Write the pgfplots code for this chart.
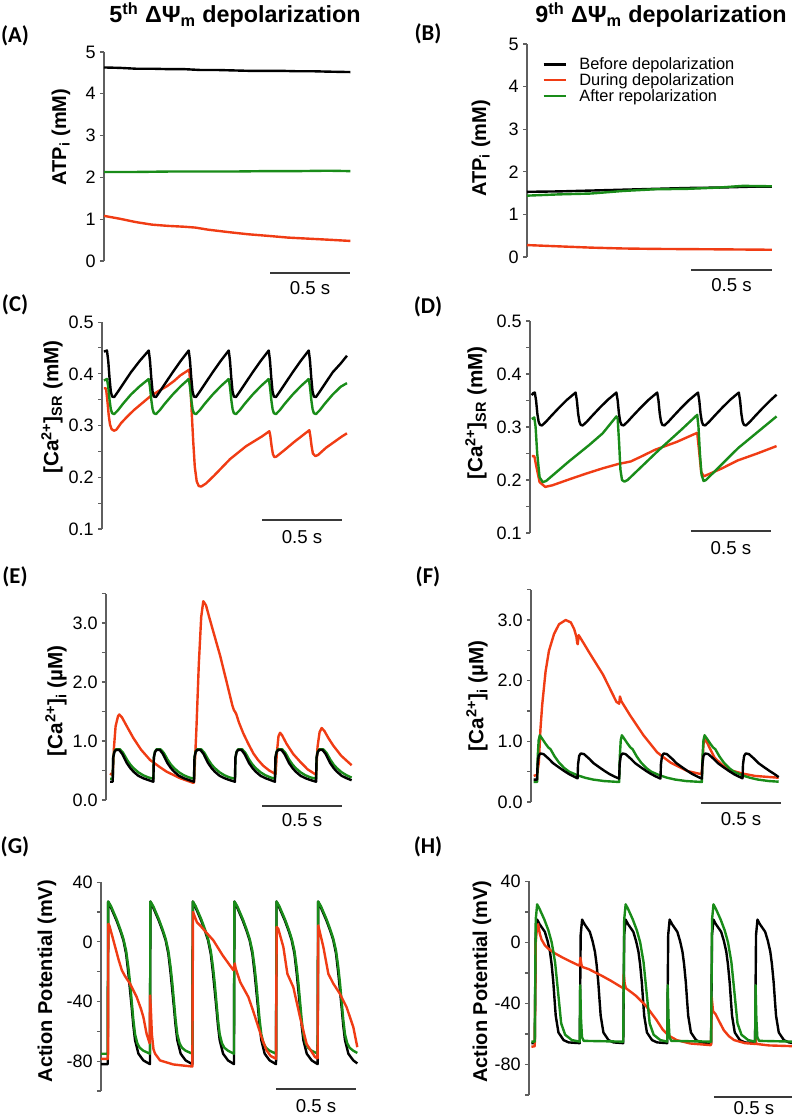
\documentclass[border=0pt]{standalone}
\usepackage{fontspec}
\setmainfont{Liberation Sans}
\newfontfamily\carlito{Carlito}
\usepackage{graphicx}
\usepackage{pgfplots}
\pgfplotsset{compat=1.18}
\definecolor{cred}{RGB}{240,60,20}
\definecolor{cgreen}{RGB}{25,140,25}
\definecolor{axgray}{RGB}{95,95,95}
\tikzset{sbar/.style={axgray!60!black, line width=1pt}}
\pgfplotsset{
  panel/.style={
    axis x line=none, axis y line*=left, x=120pt, xmin=0,
    clip=false, tick align=outside, major tick length=3pt, minor tick length=3pt,
    y axis line style={axgray, line width=0.8pt},
    tick style={axgray, line width=0.8pt},
    tick label style={font=\fontsize{13.5}{14}\selectfont, inner sep=3pt, text=black},
    anchor=south west,
    ylabel style={font=\bfseries\fontsize{15.5}{16}\selectfont},
  },
  bk/.style={black, line width=1.8pt, line join=round, no markers},
  rd/.style={cred, line width=1.8pt, line join=round, no markers},
  gn/.style={cgreen, line width=1.8pt, line join=round, no markers},
}
\newcommand{\sblab}{\fontsize{14}{14}\selectfont}
\begin{document}
\begin{tikzpicture}
\path[use as bounding box] (0pt,0pt) rectangle (594pt,-837.75pt);
% titles
\node[font=\bfseries\fontsize{17.5}{18}\selectfont] at (176.25pt,-11.25pt) {5\textsuperscript{th} ΔΨ\textsubscript{m} depolarization};
\node[font=\bfseries\fontsize{17.5}{18}\selectfont] at (495.75pt,-11.25pt) {9\textsuperscript{th} ΔΨ\textsubscript{m} depolarization};
% panel labels
\node[font=\carlito\bfseries\fontsize{17}{17}\selectfont] at (11.25pt,-27pt) {(A)};
\node[font=\carlito\bfseries\fontsize{17}{17}\selectfont] at (321pt,-25.5pt) {(B)};
\node[font=\carlito\bfseries\fontsize{17}{17}\selectfont] at (11.25pt,-228.75pt) {(C)};
\node[font=\carlito\bfseries\fontsize{17}{17}\selectfont] at (321pt,-230.25pt) {(D)};
\node[font=\carlito\bfseries\fontsize{17}{17}\selectfont] at (11.25pt,-432.75pt) {(E)};
\node[font=\carlito\bfseries\fontsize{17}{17}\selectfont] at (321pt,-432.75pt) {(F)};
\node[font=\carlito\bfseries\fontsize{17}{17}\selectfont] at (11.25pt,-635.25pt) {(G)};
\node[font=\carlito\bfseries\fontsize{17}{17}\selectfont] at (321pt,-635.25pt) {(H)};

% ---------------- A
\begin{axis}[panel, at={(78pt,-195.75pt)}, y=31.35pt, ymin=0, ymax=5, xmax=1.54,
  ytick={0,1,2,3,4,5}, yticklabels={0,1,2,3,4,5},
  ylabel={ATP\textsubscript{i} (mM)},
  ylabel style={at={([xshift=-32.25pt]rel axis cs:0,0.593)}, anchor=center, font=\bfseries\fontsize{15}{16}\selectfont}]
\addplot[bk] coordinates {(0,4.63)(0.1,4.62)(0.2,4.60)(0.3,4.60)(0.4,4.59)(0.5,4.59)(0.6,4.57)(0.7,4.57)(0.8,4.56)(0.9,4.55)(1.0,4.55)(1.1,4.55)(1.2,4.54)(1.3,4.54)(1.4,4.53)(1.54,4.52)};
\addplot[gn] coordinates {(0,2.13)(0.2,2.13)(0.4,2.14)(0.6,2.14)(0.8,2.14)(1.0,2.15)(1.2,2.15)(1.4,2.16)(1.54,2.15)};
\addplot[rd] coordinates {(0,1.08)(0.1,1.01)(0.2,0.93)(0.3,0.87)(0.4,0.84)(0.5,0.82)(0.57,0.80)(0.65,0.75)(0.78,0.69)(0.9,0.64)(1.03,0.60)(1.15,0.56)(1.25,0.54)(1.4,0.51)(1.54,0.48)};
\draw[sbar] ([yshift=-9pt]axis cs:1.0375,0) -- ([yshift=-9pt]axis cs:1.5375,0) node[midway, yshift=-11.25pt, inner sep=0pt, text=black, font=\sblab] {0.5 s};
\end{axis}

% ---------------- B
\begin{axis}[panel, at={(395.25pt,-192.75pt)}, y=31.95pt, ymin=0, ymax=5, xmax=1.53,
  ytick={0,1,2,3,4,5}, yticklabels={0,1,2,3,4,5},
  ylabel={ATP\textsubscript{i} (mM)},
  ylabel style={at={([xshift=-34.5pt]rel axis cs:0,0.51)}, anchor=center, font=\bfseries\fontsize{15}{16}\selectfont},
  legend style={at={(axis cs:0.094,4.69)}, anchor=north west, draw=none, fill=none, inner sep=0pt, row sep=1.5pt, column sep=0pt,
    font=\fontsize{12.3}{13}\selectfont, nodes={inner sep=0pt}},
  legend cell align=left,
  legend image code/.code={\draw[#1] (0pt,0pt) -- (17pt,0pt); \path (26pt,0pt);}]
\addplot[bk] coordinates {(0,1.53)(0.2,1.54)(0.4,1.56)(0.6,1.58)(0.8,1.6)(1.0,1.62)(1.2,1.63)(1.4,1.65)(1.53,1.65)};
\addlegendentry{Before depolarization}
\addplot[rd] coordinates {(0,0.28)(0.2,0.25)(0.4,0.22)(0.6,0.2)(0.8,0.19)(1.0,0.185)(1.2,0.18)(1.53,0.17)};
\addlegendentry{During depolarization}
\addplot[gn] coordinates {(0,1.44)(0.2,1.47)(0.4,1.49)(0.6,1.55)(0.8,1.59)(1.0,1.6)(1.2,1.63)(1.35,1.67)(1.53,1.66)};
\addlegendentry{After repolarization}
\draw[sbar] ([yshift=-9.75pt]axis cs:1.025,0) -- ([yshift=-9.75pt]axis cs:1.531,0) node[midway, yshift=-11.6pt, inner sep=0pt, text=black, font=\sblab] {0.5 s};
\end{axis}

% ---------------- C
\begin{axis}[panel, at={(76.5pt,-396.75pt)}, y=388pt, ymin=0.1, ymax=0.5, xmax=1.531,
  ytick={0.1,0.2,0.3,0.4,0.5}, yticklabels={0.1,0.2,0.3,0.4,0.5},
  minor ytick={0.15,0.25,0.35,0.45},
  ylabel={[Ca\textsuperscript{2+}]\textsubscript{SR} (mM)},
  ylabel style={at={([xshift=-37.5pt]rel axis cs:0,0.59)}, anchor=center}]
\addplot[rd] coordinates {(0.012,0.372)(0.025,0.372)(0.033,0.35)(0.042,0.32)(0.05,0.302)(0.06,0.293)(0.075,0.29)(0.09,0.292)(0.12,0.305)(0.16,0.318)(0.2,0.33)(0.25,0.343)(0.3,0.356)(0.35,0.366)(0.406,0.376)(0.45,0.386)(0.49,0.397)(0.52,0.403)(0.545,0.408)(0.552,0.38)(0.56,0.33)(0.57,0.27)(0.58,0.22)(0.592,0.192)(0.605,0.183)(0.62,0.182)(0.65,0.188)(0.7,0.203)(0.8,0.235)(0.9,0.26)(1.0,0.279)(1.046,0.289)(1.052,0.28)(1.06,0.26)(1.068,0.245)(1.077,0.239)(1.09,0.24)(1.15,0.255)(1.2,0.268)(1.25,0.28)(1.296,0.291)(1.302,0.28)(1.31,0.26)(1.318,0.246)(1.333,0.241)(1.35,0.243)(1.4,0.257)(1.45,0.268)(1.5,0.279)(1.531,0.285)};
\addplot[gn] coordinates {(0.012,0.387)(0.031,0.39)
(0.039,0.375)(0.047,0.35)(0.055,0.332)(0.063,0.324)(0.076,0.322)(0.101,0.33)(0.131,0.342)(0.181,0.36)(0.236,0.376)(0.292,0.39)
(0.300,0.375)(0.308,0.35)(0.316,0.332)(0.324,0.324)(0.337,0.322)(0.362,0.33)(0.392,0.342)(0.442,0.36)(0.492,0.376)(0.542,0.39)
(0.550,0.375)(0.558,0.35)(0.566,0.332)(0.574,0.324)(0.587,0.322)(0.612,0.33)(0.642,0.342)(0.692,0.36)(0.742,0.376)(0.792,0.39)
(0.800,0.375)(0.808,0.35)(0.816,0.332)(0.824,0.324)(0.837,0.322)(0.862,0.33)(0.892,0.342)(0.942,0.36)(0.992,0.376)(1.042,0.39)
(1.050,0.375)(1.058,0.35)(1.066,0.332)(1.074,0.324)(1.087,0.322)(1.112,0.33)(1.142,0.342)(1.192,0.36)(1.242,0.376)(1.292,0.39)
(1.300,0.375)(1.308,0.35)(1.316,0.332)(1.324,0.324)(1.337,0.322)(1.362,0.33)(1.392,0.342)(1.442,0.36)(1.492,0.375)(1.531,0.382)};
\addplot[bk] coordinates {(0.012,0.443)(0.031,0.445)
(0.039,0.425)(0.047,0.392)(0.055,0.366)(0.063,0.356)(0.076,0.355)(0.101,0.366)(0.131,0.38)(0.181,0.403)(0.236,0.425)(0.292,0.445)
(0.300,0.425)(0.308,0.392)(0.316,0.366)(0.324,0.356)(0.337,0.355)(0.362,0.366)(0.392,0.38)(0.442,0.403)(0.492,0.425)(0.542,0.445)
(0.550,0.425)(0.558,0.392)(0.566,0.366)(0.574,0.356)(0.587,0.355)(0.612,0.366)(0.642,0.38)(0.692,0.403)(0.742,0.425)(0.792,0.445)
(0.800,0.425)(0.808,0.392)(0.816,0.366)(0.824,0.356)(0.837,0.355)(0.862,0.366)(0.892,0.38)(0.942,0.403)(0.992,0.425)(1.042,0.445)
(1.050,0.425)(1.058,0.392)(1.066,0.366)(1.074,0.356)(1.087,0.355)(1.112,0.366)(1.142,0.38)(1.192,0.403)(1.242,0.425)(1.292,0.445)
(1.300,0.425)(1.308,0.392)(1.316,0.366)(1.324,0.356)(1.337,0.355)(1.362,0.366)(1.392,0.38)(1.442,0.403)(1.492,0.42)(1.531,0.435)};
\draw[sbar] ([yshift=6.75pt]axis cs:1.0,0.1) -- ([yshift=6.75pt]axis cs:1.5,0.1) node[midway, yshift=-12.75pt, inner sep=0pt, text=black, font=\sblab] {0.5 s};
\end{axis}

% ---------------- D
\begin{axis}[panel, at={(397.5pt,-399.75pt)}, y=397.5pt, ymin=0.1, ymax=0.5, xmax=1.541,
  ytick={0.1,0.2,0.3,0.4,0.5}, yticklabels={0.1,0.2,0.3,0.4,0.5},
  minor ytick={0.15,0.25,0.35,0.45},
  ylabel={[Ca\textsuperscript{2+}]\textsubscript{SR} (mM)},
  ylabel style={at={([xshift=-40.5pt]rel axis cs:0,0.566)}, anchor=center}]
\addplot[rd] coordinates {(0.011,0.245)(0.027,0.245)(0.04,0.225)(0.06,0.196)(0.095,0.187)(0.14,0.19)(0.243,0.201)(0.35,0.212)(0.454,0.222)(0.549,0.23)(0.63,0.235)(0.7,0.245)(0.781,0.257)(0.918,0.272)(1.045,0.289)(1.055,0.26)(1.07,0.215)(1.087,0.207)(1.2,0.222)(1.299,0.237)(1.42,0.25)(1.541,0.264)};
\addplot[gn] coordinates {(0.011,0.315)(0.027,0.318)(0.035,0.30)(0.045,0.25)(0.06,0.205)(0.08,0.196)(0.1,0.198)(0.243,0.235)(0.37,0.266)(0.454,0.288)(0.54,0.32)(0.548,0.315)(0.557,0.27)(0.565,0.22)(0.575,0.2)(0.59,0.197)(0.61,0.2)(0.8,0.255)(0.95,0.296)(1.045,0.323)(1.053,0.3)(1.062,0.25)(1.072,0.21)(1.085,0.198)(1.1,0.2)(1.3,0.26)(1.541,0.32)};
\addplot[bk] coordinates {(0.011,0.36)(0.02,0.364)(0.03,0.365)
(0.038,0.35)(0.046,0.325)(0.054,0.31)(0.062,0.304)(0.075,0.303)(0.1,0.31)(0.13,0.32)(0.18,0.336)(0.23,0.351)(0.285,0.365)
(0.293,0.35)(0.301,0.325)(0.309,0.31)(0.317,0.304)(0.33,0.303)(0.355,0.31)(0.385,0.32)(0.435,0.336)(0.485,0.351)(0.54,0.365)
(0.548,0.35)(0.556,0.325)(0.564,0.31)(0.572,0.304)(0.585,0.303)(0.61,0.31)(0.64,0.32)(0.69,0.336)(0.74,0.351)(0.795,0.365)
(0.803,0.35)(0.811,0.325)(0.819,0.31)(0.827,0.304)(0.84,0.303)(0.865,0.31)(0.895,0.32)(0.945,0.336)(0.995,0.351)(1.05,0.365)
(1.058,0.35)(1.066,0.325)(1.074,0.31)(1.082,0.304)(1.095,0.303)(1.12,0.31)(1.15,0.32)(1.2,0.336)(1.25,0.351)(1.305,0.365)
(1.313,0.35)(1.321,0.325)(1.329,0.31)(1.337,0.304)(1.35,0.303)(1.375,0.31)(1.405,0.32)(1.455,0.336)(1.505,0.351)(1.541,0.361)};
\draw[sbar] ([yshift=1.5pt]axis cs:1.006,0.1) -- ([yshift=1.5pt]axis cs:1.506,0.1) node[midway, yshift=-12.75pt, inner sep=0pt, text=black, font=\sblab] {0.5 s};
\end{axis}

% ---------------- E
\begin{axis}[panel, at={(79.5pt,-600pt)}, y=44.25pt, ymin=0, ymax=3.5, xmax=1.535,
  ytick={0,1,2,3}, yticklabels={0.0,1.0,2.0,3.0},
  minor ytick={0.5,1.5,2.5,3.5},
  ylabel={[Ca\textsuperscript{2+}]\textsubscript{i} (µM)},
  ylabel style={at={([xshift=-37.5pt]rel axis cs:0,0.48)}, anchor=center}]
\addplot[rd] coordinates {(0.025,0.45)(0.042,0.42)(0.05,0.9)(0.06,1.25)(0.075,1.42)(0.083,1.45)(0.1,1.4)(0.13,1.25)(0.171,1.05)(0.22,0.85)(0.275,0.68)(0.33,0.57)(0.379,0.48)(0.463,0.37)(0.546,0.29)(0.55,0.3)(0.565,1.2)(0.58,2.3)(0.595,3.1)(0.608,3.37)(0.625,3.3)(0.645,3.1)(0.671,2.85)(0.713,2.45)(0.754,2.0)(0.79,1.6)(0.8,1.52)(0.806,1.5)(0.815,1.45)(0.83,1.32)(0.858,1.13)(0.89,0.95)(0.921,0.79)(0.95,0.68)(0.983,0.58)(1.02,0.5)(1.06,0.44)(1.068,0.8)(1.078,1.08)(1.088,1.14)(1.1,1.1)(1.129,0.95)(1.17,0.78)(1.213,0.65)(1.26,0.52)(1.306,0.44)(1.313,0.43)(1.322,0.9)(1.335,1.15)(1.348,1.22)(1.365,1.17)(1.39,1.05)(1.421,0.92)(1.47,0.75)(1.535,0.59)};
\addplot[gn] coordinates {(0.025,0.36)(0.042,0.36)(0.045,0.72)(0.052,0.82)(0.062,0.86)(0.087,0.86)(0.107,0.8)(0.132,0.68)(0.152,0.6)(0.172,0.54)(0.202,0.47)(0.232,0.42)(0.262,0.385)(0.296,0.36)
(0.299,0.72)(0.306,0.82)(0.316,0.86)(0.341,0.86)(0.361,0.8)(0.386,0.68)(0.406,0.6)(0.426,0.54)(0.456,0.47)(0.486,0.42)(0.516,0.385)(0.55,0.36)
(0.553,0.72)(0.56,0.82)(0.57,0.86)(0.595,0.86)(0.615,0.8)(0.64,0.68)(0.66,0.6)(0.68,0.54)(0.71,0.47)(0.74,0.42)(0.77,0.385)(0.806,0.36)
(0.809,0.72)(0.816,0.82)(0.826,0.86)(0.851,0.86)(0.871,0.8)(0.896,0.68)(0.916,0.6)(0.936,0.54)(0.966,0.47)(0.996,0.42)(1.026,0.385)(1.056,0.36)
(1.059,0.72)(1.066,0.82)(1.076,0.86)(1.101,0.86)(1.121,0.8)(1.146,0.68)(1.166,0.6)(1.186,0.54)(1.216,0.47)(1.246,0.42)(1.276,0.385)(1.313,0.36)
(1.316,0.72)(1.323,0.82)(1.333,0.86)(1.358,0.86)(1.378,0.8)(1.403,0.68)(1.423,0.6)(1.443,0.54)(1.473,0.47)(1.503,0.42)(1.535,0.38)};
\addplot[bk] coordinates {(0.025,0.31)(0.042,0.31)(0.045,0.72)(0.052,0.81)(0.062,0.85)(0.082,0.85)(0.102,0.78)(0.129,0.63)(0.152,0.54)(0.172,0.48)(0.202,0.41)(0.232,0.37)(0.262,0.34)(0.296,0.31)
(0.299,0.72)(0.306,0.81)(0.316,0.85)(0.336,0.85)(0.356,0.78)(0.383,0.63)(0.406,0.54)(0.426,0.48)(0.456,0.41)(0.486,0.37)(0.516,0.34)(0.55,0.31)
(0.553,0.72)(0.56,0.81)(0.57,0.85)(0.59,0.85)(0.61,0.78)(0.637,0.63)(0.66,0.54)(0.68,0.48)(0.71,0.41)(0.74,0.37)(0.77,0.34)(0.806,0.31)
(0.809,0.72)(0.816,0.81)(0.826,0.85)(0.846,0.85)(0.866,0.78)(0.893,0.63)(0.916,0.54)(0.936,0.48)(0.966,0.41)(0.996,0.37)(1.026,0.34)(1.056,0.31)
(1.059,0.72)(1.066,0.81)(1.076,0.85)(1.096,0.85)(1.116,0.78)(1.143,0.63)(1.166,0.54)(1.186,0.48)(1.216,0.41)(1.246,0.37)(1.276,0.34)(1.313,0.31)
(1.316,0.72)(1.323,0.81)(1.333,0.85)(1.353,0.85)(1.373,0.78)(1.4,0.63)(1.423,0.54)(1.443,0.48)(1.473,0.41)(1.503,0.37)(1.535,0.335)};
\draw[sbar] ([yshift=-4.5pt]axis cs:0.975,0) -- ([yshift=-4.5pt]axis cs:1.475,0) node[midway, yshift=-10.5pt, inner sep=0pt, text=black, font=\sblab] {0.5 s};
\end{axis}

% ---------------- F
\begin{axis}[panel, at={(398.25pt,-601.5pt)}, y=45.5pt, ymin=0, ymax=3.5, xmax=1.548,
  ytick={0,1,2,3}, yticklabels={0.0,1.0,2.0,3.0},
  minor ytick={0.5,1.5,2.5,3.5},
  ylabel={[Ca\textsuperscript{2+}]\textsubscript{i} (µM)},
  ylabel style={at={([xshift=-40.5pt]rel axis cs:0,0.5)}, anchor=center}]
\addplot[rd] coordinates {(0.017,0.43)(0.038,0.45)(0.049,0.65)(0.059,1.2)(0.07,1.6)(0.091,2.15)(0.112,2.49)(0.144,2.77)(0.175,2.93)(0.217,3.0)(0.249,2.96)(0.27,2.85)(0.284,2.72)(0.289,2.62)(0.292,2.6)(0.298,2.75)(0.31,2.7)(0.365,2.46)(0.45,2.1)(0.534,1.65)(0.551,1.62)(0.556,1.74)(0.565,1.66)(0.619,1.43)(0.703,1.1)(0.788,0.82)(0.812,0.77)(0.872,0.65)(0.978,0.51)(1.062,0.46)(1.068,0.5)(1.078,0.95)(1.088,1.05)(1.1,0.98)(1.147,0.73)(1.2,0.6)(1.252,0.52)(1.32,0.47)(1.4,0.43)(1.548,0.4)};
\addplot[gn] coordinates {(0.017,0.33)(0.038,0.33)(0.042,0.75)(0.048,1.02)(0.055,1.1)(0.068,1.05)(0.091,0.96)(0.108,0.9)(0.122,0.87)(0.148,0.75)(0.175,0.65)(0.208,0.56)(0.238,0.5)(0.291,0.44)(0.338,0.4)(0.388,0.37)(0.458,0.345)(0.551,0.33)
(0.555,0.75)(0.561,1.02)(0.568,1.1)(0.581,1.05)(0.604,0.96)(0.621,0.9)(0.635,0.87)(0.661,0.75)(0.688,0.65)(0.721,0.56)(0.751,0.5)(0.804,0.44)(0.851,0.4)(0.901,0.37)(0.971,0.345)(1.068,0.33)
(1.072,0.75)(1.078,1.02)(1.085,1.1)(1.098,1.05)(1.121,0.96)(1.138,0.9)(1.152,0.87)(1.178,0.75)(1.205,0.65)(1.238,0.56)(1.268,0.5)(1.321,0.44)(1.368,0.4)(1.418,0.37)(1.488,0.345)(1.548,0.335)};
\addplot[bk] coordinates {(0.017,0.37)(0.038,0.37)(0.041,0.62)(0.048,0.76)(0.058,0.8)(0.078,0.79)(0.112,0.71)(0.138,0.64)(0.175,0.57)(0.208,0.51)(0.238,0.46)(0.268,0.42)(0.291,0.39)
(0.294,0.62)(0.301,0.76)(0.311,0.8)(0.331,0.79)(0.365,0.71)(0.391,0.64)(0.428,0.57)(0.461,0.51)(0.491,0.46)(0.521,0.42)(0.551,0.385)
(0.554,0.62)(0.561,0.76)(0.571,0.8)(0.591,0.79)(0.625,0.71)(0.651,0.64)(0.688,0.57)(0.721,0.51)(0.751,0.46)(0.781,0.42)(0.809,0.385)
(0.812,0.62)(0.819,0.76)(0.829,0.8)(0.849,0.79)(0.883,0.71)(0.909,0.64)(0.946,0.57)(0.979,0.51)(1.009,0.46)(1.039,0.42)(1.068,0.385)
(1.071,0.62)(1.078,0.76)(1.088,0.8)(1.108,0.79)(1.142,0.71)(1.168,0.64)(1.205,0.57)(1.238,0.51)(1.268,0.46)(1.298,0.42)(1.322,0.39)
(1.325,0.62)(1.332,0.76)(1.342,0.8)(1.362,0.79)(1.396,0.71)(1.422,0.64)(1.459,0.57)(1.492,0.51)(1.522,0.46)(1.548,0.41)};
\draw[sbar] ([yshift=-0.75pt]axis cs:1.0625,0) -- ([yshift=-0.75pt]axis cs:1.5625,0) node[midway, yshift=-12pt, inner sep=0pt, text=black, font=\sblab] {0.5 s};
\end{axis}

% ---------------- G
\begin{axis}[panel, at={(75.75pt,-818.25pt)}, y=1.119pt, ymin=-100, ymax=40, xmax=1.602,
  ytick={-80,-40,0,40}, yticklabels={-80,-40,0,40},
  minor ytick={-100,-60,-20,20},
  ylabel={Action Potential (mV)},
  ylabel style={at={([xshift=-40.5pt]rel axis cs:0,0.526)}, anchor=center, font=\bfseries\fontsize{15}{16}\selectfont}]
\addplot[bk] coordinates {(0,-82)(0.042,-82)(0.045,27)(0.062,23)(0.082,18)(0.098,14)(0.122,7)(0.14,1)(0.157,-8)(0.171,-21)(0.182,-33)(0.192,-44)(0.202,-56)(0.213,-66)(0.234,-75)(0.265,-79.5)(0.306,-82)
(0.309,27)(0.326,23)(0.346,18)(0.362,14)(0.386,7)(0.404,1)(0.421,-8)(0.435,-21)(0.446,-33)(0.456,-44)(0.466,-56)(0.477,-66)(0.498,-75)(0.529,-79.5)(0.571,-82)
(0.574,27)(0.591,23)(0.611,18)(0.627,14)(0.651,7)(0.669,1)(0.686,-8)(0.7,-21)(0.711,-33)(0.721,-44)(0.731,-56)(0.742,-66)(0.763,-75)(0.794,-79.5)(0.831,-82)
(0.834,27)(0.851,23)(0.871,18)(0.887,14)(0.911,7)(0.929,1)(0.946,-8)(0.96,-21)(0.971,-33)(0.981,-44)(0.991,-56)(1.002,-66)(1.023,-75)(1.054,-79.5)(1.094,-82)
(1.097,27)(1.114,23)(1.134,18)(1.15,14)(1.174,7)(1.192,1)(1.209,-8)(1.223,-21)(1.234,-33)(1.244,-44)(1.254,-56)(1.265,-66)(1.286,-75)(1.317,-79.5)(1.354,-82)
(1.357,27)(1.374,23)(1.394,18)(1.41,14)(1.434,7)(1.452,1)(1.469,-8)(1.483,-21)(1.494,-33)(1.504,-44)(1.514,-56)(1.525,-66)(1.546,-75)(1.577,-79.5)(1.602,-81.5)};
\addplot[gn] coordinates {(0,-75)(0.042,-75)(0.045,27)(0.062,24)(0.082,19)(0.098,15)(0.122,8)(0.14,2)(0.157,-6)(0.171,-17)(0.182,-28)(0.192,-40)(0.202,-52)(0.213,-62)(0.227,-68)(0.242,-71)(0.265,-73)(0.306,-75)
(0.309,27)(0.326,24)(0.346,19)(0.362,15)(0.386,8)(0.404,2)(0.421,-6)(0.435,-17)(0.446,-28)(0.456,-40)(0.466,-52)(0.477,-62)(0.491,-68)(0.506,-71)(0.529,-73)(0.571,-75)
(0.574,27)(0.591,24)(0.611,19)(0.627,15)(0.651,8)(0.669,2)(0.686,-6)(0.7,-17)(0.711,-28)(0.721,-40)(0.731,-52)(0.742,-62)(0.756,-68)(0.771,-71)(0.794,-73)(0.831,-75)
(0.834,27)(0.851,24)(0.871,19)(0.887,15)(0.911,8)(0.929,2)(0.946,-6)(0.96,-17)(0.971,-28)(0.981,-40)(0.991,-52)(1.002,-62)(1.016,-68)(1.031,-71)(1.054,-73)(1.094,-75)
(1.097,27)(1.114,24)(1.134,19)(1.15,15)(1.174,8)(1.192,2)(1.209,-6)(1.223,-17)(1.234,-28)(1.244,-40)(1.254,-52)(1.265,-62)(1.279,-68)(1.294,-71)(1.317,-73)(1.354,-75)
(1.357,27)(1.374,24)(1.394,19)(1.41,15)(1.434,8)(1.452,2)(1.469,-6)(1.483,-17)(1.494,-28)(1.504,-40)(1.514,-52)(1.525,-62)(1.539,-68)(1.554,-71)(1.577,-73)(1.602,-74.5)};
\addplot[rd] coordinates {(0,-78.5)(0.044,-78.5)(0.046,12)(0.052,11)(0.07,4)(0.09,-4)(0.11,-12)(0.13,-19)(0.15,-23)(0.181,-28)(0.223,-37)(0.25,-45)(0.265,-50.5)(0.285,-61.7)(0.304,-68)(0.307,-36)(0.312,-46)(0.318,-62)(0.328,-72)(0.338,-75)(0.369,-79.5)(0.452,-82.2)(0.571,-83.6)(0.575,20)(0.6,13)(0.619,11)(0.66,6)(0.702,1)(0.76,-9)(0.827,-19)(0.831,-17)(0.836,-14.5)(0.842,-18)(0.87,-27)(0.921,-37)(0.95,-46)(0.983,-57)(1.01,-66)(1.035,-72.8)(1.06,-76.5)(1.094,-78.4)(1.098,10)(1.108,8.7)(1.14,-3.6)(1.165,-21.5)(1.202,-30.4)(1.244,-50.5)(1.285,-68.4)(1.338,-77.3)(1.354,-78)(1.358,11)(1.39,-3.6)(1.421,-21.5)(1.452,-28)(1.494,-35)(1.535,-43.8)(1.577,-57.2)(1.602,-70.6)};
\draw[sbar] ([yshift=1.5pt]axis cs:1.094,-100) -- ([yshift=1.5pt]axis cs:1.594,-100) node[midway, yshift=-12.75pt, inner sep=0pt, text=black, font=\sblab] {0.5 s};
\end{axis}

% ---------------- H
\begin{axis}[panel, at={(396.75pt,-821.25pt)}, y=1.144pt, ymin=-100, ymax=40, xmax=1.655,
  ytick={-80,-40,0,40}, yticklabels={-80,-40,0,40},
  minor ytick={-100,-60,-20,20},
  ylabel={Action Potential (mV)},
  ylabel style={at={([xshift=-35.25pt]rel axis cs:0,0.53)}, anchor=center, font=\bfseries\fontsize{15}{16}\selectfont}]
\addplot[bk] coordinates {(0.015,-66)(0.036,-66)(0.042,5)(0.051,15)(0.066,12)(0.099,7)(0.116,1)(0.131,-6)(0.141,-14)(0.152,-26)(0.16,-38)(0.167,-48)(0.184,-59)(0.216,-64)(0.247,-65.5)(0.317,-66)
(0.323,5)(0.332,15)(0.347,12)(0.38,7)(0.397,1)(0.412,-6)(0.422,-14)(0.433,-26)(0.441,-38)(0.448,-48)(0.465,-59)(0.497,-64)(0.528,-65.5)(0.589,-66)
(0.595,5)(0.604,15)(0.619,12)(0.652,7)(0.669,1)(0.684,-6)(0.694,-14)(0.705,-26)(0.713,-38)(0.72,-48)(0.737,-59)(0.769,-64)(0.8,-65.5)(0.864,-66)
(0.87,5)(0.879,15)(0.894,12)(0.927,7)(0.944,1)(0.959,-6)(0.969,-14)(0.98,-26)(0.988,-38)(0.995,-48)(1.012,-59)(1.044,-64)(1.075,-65.5)(1.138,-66)
(1.144,5)(1.153,15)(1.168,12)(1.201,7)(1.218,1)(1.233,-6)(1.243,-14)(1.254,-26)(1.262,-38)(1.269,-48)(1.286,-59)(1.318,-64)(1.349,-65.5)(1.413,-66)
(1.419,5)(1.428,15)(1.443,12)(1.476,7)(1.493,1)(1.508,-6)(1.518,-14)(1.529,-26)(1.537,-38)(1.544,-48)(1.561,-59)(1.593,-64)(1.624,-65.5)(1.655,-66)};
\addplot[rd] coordinates {(0.015,-68.4)(0.036,-68)(0.042,0)(0.05,10)(0.057,12)(0.067,6)(0.078,2)(0.1,-2)(0.12,-4)(0.16,-7)(0.205,-9.6)(0.26,-12.5)(0.31,-15)(0.317,-15)(0.321,-10)(0.327,-14)(0.332,-16)(0.374,-17.5)(0.42,-20)(0.458,-22)(0.51,-25)(0.564,-28.4)(0.589,-30)(0.592,-20.7)(0.598,-27)(0.606,-30)(0.669,-35)(0.733,-41.8)(0.796,-50.7)(0.835,-57)(0.859,-59.6)(0.864,-60)(0.867,-58)(0.872,-61)(0.923,-64)(1.007,-66.2)(1.134,-67.3)(1.138,-67)(1.142,-36)(1.15,-45)(1.166,-47)(1.19,-52)(1.218,-57.6)(1.25,-61.5)(1.282,-64)(1.35,-66)(1.413,-66.5)(1.416,-62)(1.42,-66.5)(1.5,-67.5)(1.655,-68)};
\addplot[gn] coordinates {(0.015,-65)(0.036,-65)(0.042,15)(0.051,25)(0.066,22)(0.096,15)(0.121,8)(0.142,0)(0.163,-13)(0.184,-35)(0.201,-53)(0.226,-60.5)(0.268,-64)(0.317,-65)
(0.32,-28)(0.325,-50)(0.331,-62)(0.342,-64.5)(0.589,-65)
(0.595,15)(0.604,25)(0.619,22)(0.649,15)(0.674,8)(0.695,0)(0.716,-13)(0.737,-35)(0.754,-53)(0.779,-60.5)(0.821,-64)(0.864,-65)
(0.867,-28)(0.872,-50)(0.878,-62)(0.889,-64.5)(1.138,-65)
(1.144,15)(1.153,25)(1.168,22)(1.198,15)(1.223,8)(1.244,0)(1.265,-13)(1.286,-35)(1.303,-53)(1.328,-60.5)(1.37,-64)(1.413,-65)
(1.416,-28)(1.421,-50)(1.427,-62)(1.438,-64.5)(1.655,-65)};
\draw[sbar] ([yshift=-1.5pt]axis cs:1.156,-100) -- ([yshift=-1.5pt]axis cs:1.656,-100) node[midway, yshift=-8pt, inner sep=0pt, text=black, font=\sblab] {0.5 s};
\end{axis}
\end{tikzpicture}
\end{document}
